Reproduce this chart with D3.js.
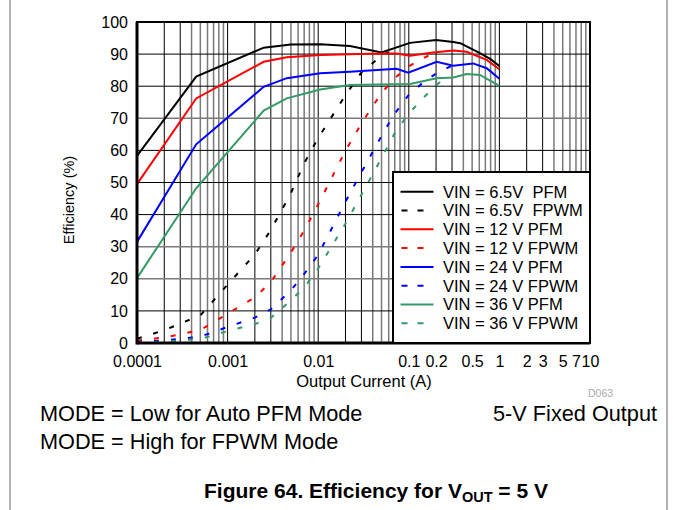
<!DOCTYPE html>
<html>
<head>
<meta charset="utf-8">
<script src="https://cdn.jsdelivr.net/npm/d3@7"></script>
<style>
  body { margin: 0; background: #fff; }
  svg { display: block; font-family: "Liberation Sans", Arial, sans-serif; }
</style>
</head>
<body>
<div id="draw"></div>
<script>
// data (current in A, efficiency in %)
const pfm65I = [0.0001, 0.00045, 0.0025, 0.005, 0.0105, 0.0224, 0.05, 0.103, 0.2, 0.31, 0.37, 0.61, 0.79, 1.0];
const pfm65E = [58.3, 83.0, 92.0, 93.0, 93.1, 92.5, 90.5, 93.5, 94.4, 93.8, 93.4, 90.3, 88.5, 86.3];
const pwm65I = [0.0001, 0.0002, 0.0005, 0.001, 0.002, 0.003, 0.005, 0.007, 0.01, 0.02, 0.03, 0.05, 0.06];
const pwm65E = [1.3, 4.0, 8.6, 18.2, 27.6, 35.2, 46.7, 56.0, 63.9, 77.2, 84.3, 89.5, 90.6];

const pfm12I = [0.0001, 0.00045, 0.0025, 0.0045, 0.0105, 0.048, 0.073, 0.103, 0.185, 0.31, 0.435, 0.724, 1.0];
const pfm12E = [49.5, 76.2, 87.6, 89.0, 89.7, 90.2, 90.2, 89.5, 90.5, 91.1, 90.7, 88.2, 85.3];
const pwm12I = [0.0001, 0.0002, 0.0005, 0.001, 0.002, 0.003, 0.005, 0.007, 0.01, 0.02, 0.03, 0.05, 0.07, 0.1, 0.15, 0.2];
const pwm12E = [0.8, 1.7, 4.0, 9.1, 14.2, 19.0, 28.2, 35.0, 43.2, 59.9, 68.4, 77.9, 82.5, 86.2, 89.0, 90.5];

const pfm24I = [0.0001, 0.00045, 0.0025, 0.0045, 0.0105, 0.0224, 0.0734, 0.0986, 0.203, 0.31, 0.512, 0.724, 1.0];
const pfm24E = [31.5, 61.9, 79.8, 82.5, 84.0, 84.5, 85.4, 84.2, 87.6, 86.4, 87.1, 85.6, 82.3];
const pwm24I = [0.0001, 0.0002, 0.0005, 0.001, 0.002, 0.003, 0.005, 0.007, 0.01, 0.02, 0.03, 0.05, 0.07, 0.1, 0.15, 0.2, 0.3];
const pwm24E = [0.4, 0.8, 2.0, 5.0, 7.9, 10.5, 16.4, 21.5, 27.5, 44.0, 53.2, 64.5, 71.5, 77.3, 81.6, 83.9, 86.4];

const pfm36I = [0.0001, 0.00045, 0.0025, 0.0045, 0.0105, 0.0224, 0.103, 0.203, 0.31, 0.435, 0.61, 1.0];
const pfm36E = [20.2, 48.2, 72.4, 76.2, 79.0, 80.4, 80.7, 82.5, 82.7, 83.8, 83.5, 80.1];
const pwm36I = [0.0001, 0.0002, 0.0005, 0.001, 0.002, 0.003, 0.005, 0.007, 0.01, 0.02, 0.03, 0.05, 0.07, 0.1, 0.15, 0.2, 0.25];
const pwm36E = [0.2, 0.4, 1.3, 3.7, 5.9, 7.8, 13.3, 17.3, 23.2, 37.2, 46.2, 57.6, 65.4, 71.5, 76.8, 80.3, 82.6];

const xTicks = [0.0001, 0.001, 0.01, 0.1, 0.2, 0.5, 1, 2, 3, 5, 7, 10];
const xTickLabels = ['0.0001', '0.001', '0.01', '0.1', '0.2', '0.5', '1', '2', '3', '5', '7', '10'];
const yTicks = [0, 10, 20, 30, 40, 50, 60, 70, 80, 90, 100];

const legendLabels = ['VIN = 6.5V  PFM', 'VIN = 6.5V  FPWM', 'VIN = 12 V PFM', 'VIN = 12 V FPWM',
    'VIN = 24 V PFM', 'VIN = 24 V FPWM', 'VIN = 36 V PFM', 'VIN = 36 V FPWM'];

const colors = { k: '#000000', r: '#ff0000', b: '#0000ff', g: '#339966' };

let series = [
    { I: pfm65I, E: pfm65E, c: colors.k, dash: false },
    { I: pwm65I, E: pwm65E, c: colors.k, dash: true },
    { I: pfm12I, E: pfm12E, c: colors.r, dash: false },
    { I: pwm12I, E: pwm12E, c: colors.r, dash: true },
    { I: pfm24I, E: pfm24E, c: colors.b, dash: false },
    { I: pwm24I, E: pwm24E, c: colors.b, dash: true },
    { I: pfm36I, E: pfm36E, c: colors.g, dash: false },
    { I: pwm36I, E: pwm36E, c: colors.g, dash: true }
];

// parameters
let width = 673, height = 510;
let plot = { left: 137, right: 590, top: 22, bottom: 343 };
let font = '"Liberation Sans", Arial, sans-serif';

let x = d3.scaleLog().domain([0.0001, 10]).range([plot.left, plot.right]);
let y = d3.scaleLinear().domain([0, 100]).range([plot.bottom, plot.top]);

let svg = d3.select('#draw').append('svg').attr('width', width).attr('height', height);

// page frame
svg.append('line').attr('x1', 10).attr('x2', 10).attr('y1', 0).attr('y2', height)
    .style('stroke', '#666').style('stroke-width', 1);
svg.append('line').attr('x1', 667).attr('x2', 667).attr('y1', 0).attr('y2', height)
    .style('stroke', '#666').style('stroke-width', 1);

// grid
let minor = [];
for (let e = -4; e < 1; e++) {
    for (let m = 1; m < 10; m++) minor.push({ v: m * Math.pow(10, e), m: m });
}
svg.append('g').selectAll('line')
    .data(minor.filter(d => d.m > 1))
    .enter().append('line')
    .attr('x1', d => x(d.v)).attr('x2', d => x(d.v))
    .attr('y1', plot.top).attr('y2', plot.bottom)
    .style('stroke', d => d.m <= 3 ? '#000' : '#7a7a7a')
    .style('stroke-width', d => d.m <= 3 ? 1 : 1.5);
svg.append('g').selectAll('line')
    .data(xTicks.filter(d => [0.001, 0.01, 0.1, 1].includes(d)))
    .enter().append('line')
    .attr('x1', d => x(d)).attr('x2', d => x(d))
    .attr('y1', plot.top).attr('y2', plot.bottom)
    .style('stroke', '#000').style('stroke-width', 1);

let grayRows = [70, 30, 20];
svg.append('g').selectAll('line')
    .data(yTicks.filter(d => d > 0 && d < 100))
    .enter().append('line')
    .attr('x1', plot.left).attr('x2', plot.right)
    .attr('y1', d => y(d)).attr('y2', d => y(d))
    .style('stroke', d => grayRows.includes(d) ? '#7a7a7a' : '#000')
    .style('stroke-width', d => grayRows.includes(d) ? 1.5 : 1);

// curves
let line = d3.line().x(d => x(d[0])).y(d => y(d[1]));
svg.append('g').selectAll('path')
    .data(series)
    .enter().append('path')
    .attr('d', s => line(s.I.map((v, i) => [v, s.E[i]])))
    .style('fill', 'none')
    .style('stroke', s => s.c)
    .style('stroke-width', 2)
    .style('stroke-dasharray', s => s.dash ? '5,12' : null);

// frame of the plot
svg.append('rect')
    .attr('x', plot.left).attr('y', plot.top)
    .attr('width', plot.right - plot.left).attr('height', plot.bottom - plot.top)
    .style('fill', 'none').style('stroke', '#000').style('stroke-width', 2);
svg.append('line').attr('x1', plot.left).attr('x2', plot.left).attr('y1', plot.top).attr('y2', plot.bottom + 1.5)
    .style('stroke', '#000').style('stroke-width', 3);
svg.append('line').attr('x1', plot.left).attr('x2', plot.right).attr('y1', plot.bottom).attr('y2', plot.bottom)
    .style('stroke', '#000').style('stroke-width', 3);

// axes
let xAxis = d3.axisBottom(x).tickValues(xTicks).tickSize(0).tickPadding(13)
    .tickFormat((d, i) => xTickLabels[i]);
let gx = svg.append('g').attr('transform', 'translate(0,' + plot.bottom + ')').call(xAxis);
gx.select('.domain').remove();
gx.selectAll('text').style('font-size', '16px').style('font-family', font).style('fill', '#000');

let yAxis = d3.axisLeft(y).tickValues(yTicks).tickSize(0).tickPadding(9);
let gy = svg.append('g').attr('transform', 'translate(' + plot.left + ',0)').call(yAxis);
gy.select('.domain').remove();
gy.selectAll('text').style('font-size', '16px').style('font-family', font).style('fill', '#000');

svg.append('text')
    .attr('x', (plot.left + plot.right) / 2 + 0.5).attr('y', 387)
    .attr('text-anchor', 'middle')
    .style('font-size', '16.5px')
    .text('Output Current (A)');

svg.append('text')
    .attr('transform', 'translate(74,' + 200 + ') rotate(-90)')
    .attr('text-anchor', 'middle')
    .style('font-size', '14.5px')
    .text('Efficiency (%)');

svg.append('text')
    .attr('x', 588).attr('y', 397)
    .style('font-size', '10.5px').style('fill', '#aaa')
    .text('D063');

// legend
let lg = svg.append('g');
lg.append('rect')
    .attr('x', 393).attr('y', 172).attr('width', 197).attr('height', 171)
    .style('fill', '#fff').style('stroke', '#000').style('stroke-width', 2);
let rows = lg.selectAll('g.row')
    .data(series)
    .enter().append('g')
    .attr('class', 'row')
    .attr('transform', (d, i) => 'translate(0,' + (191.7 + i * 18.8) + ')');
rows.append('line')
    .attr('x1', d => d.dash ? 401.5 : 400.5).attr('x2', d => d.dash ? 423.5 : 433.5)
    .attr('y1', 0).attr('y2', 0)
    .style('stroke', d => d.c).style('stroke-width', 2)
    .style('stroke-dasharray', d => d.dash ? '6,10' : null);
rows.append('text')
    .attr('x', 443).attr('dy', '0.36em')
    .style('font-size', '16.5px')
    .style('white-space', 'pre')
    .text((d, i) => legendLabels[i]);

// notes below the chart
svg.append('text').attr('x', 40).attr('y', 421).style('font-size', '21.7px')
    .text('MODE = Low for Auto PFM Mode');
svg.append('text').attr('x', 40).attr('y', 449).style('font-size', '21.7px')
    .text('MODE = High for FPWM Mode');
svg.append('text').attr('x', 657).attr('y', 421).attr('text-anchor', 'end').style('font-size', '21.7px')
    .text('5-V Fixed Output');

let cap = svg.append('text').attr('x', 376).attr('y', 498).attr('text-anchor', 'middle')
    .style('font-size', '21px').style('font-weight', 'bold');
cap.append('tspan').text('Figure 64. Efficiency for V');
cap.append('tspan').attr('dy', 4).style('font-size', '14.5px').text('OUT');
cap.append('tspan').attr('dy', -4).text(' = 5 V');
</script>
</body>
</html>
